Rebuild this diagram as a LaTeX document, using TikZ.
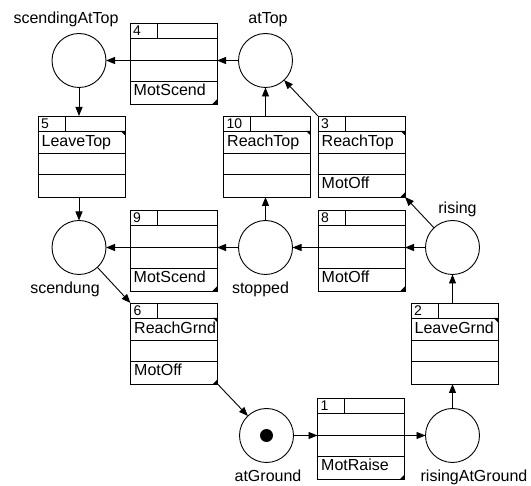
\documentclass[tikz,border=0pt]{standalone}
\usepackage{fontspec}
\setmainfont{Liberation Sans}
\usetikzlibrary{arrows.meta}
\tikzset{
  place/.style={circle,draw,line width=0.9pt,minimum size=54pt,inner sep=0pt,outer sep=0pt},
  tbox/.style={rectangle,draw,line width=0.9pt,minimum width=87pt,minimum height=81pt,inner sep=0pt,outer sep=0pt},
  rowline/.style={line width=0.9pt},
  txt/.style={font=\fontsize{16}{18}\selectfont,inner sep=0pt},
  numtxt/.style={font=\fontsize{14}{16}\selectfont,inner sep=0pt},
  arcline/.style={line width=0.9pt,-{Triangle[length=9pt,width=7pt]}},
}
\newcommand\mytrans[6]{%
  \node[tbox] (#1) at (#2+43.5,#3+40.5) {};
  \draw[rowline] (#2,#3+15) -- ++(87,0) (#2,#3+37.5) -- ++(87,0)
    (#2,#3+58.5) -- ++(87,0) (#2+27,#3) -- ++(0,15);
  \node[numtxt,anchor=base west] at (#2+3,#3+12.5) {#4};
  \if\relax\detokenize{#5}\relax\else
    \node[txt,anchor=base west] at (#2+3.5,#3+31) {#5};
    \fill (#2+87,#3+15) -- ++(-4.5,0) -- ++(4.5,4.5) -- cycle;
  \fi
  \if\relax\detokenize{#6}\relax\else
    \node[txt,anchor=base west] at (#2+3.5,#3+73) {#6};
    \fill (#2+87,#3+81) -- ++(-4.5,0) -- ++(4.5,-4.5) -- cycle;
  \fi
}
\begin{document}
\begin{tikzpicture}[x=1pt,y=-1pt]
\useasboundingbox (0,0) rectangle (531,486);
% places
\node[place] (sAT) at (79,60.5) {};
\node[place] (atTop) at (265.5,60.5) {};
\node[place] (scendung) at (79,247.5) {};
\node[place] (stopped) at (265.5,247.5) {};
\node[place] (rising) at (452.5,247.5) {};
\node[place] (atGround) at (266.5,435.5) {};
\node[place] (rAG) at (452.5,435.5) {};
\fill (atGround.center) circle (6.5);
% place labels
\node[txt,anchor=base] (lsAT) at (66,23.5) {scendingAtTop};
\node[txt,anchor=base] (latTop) at (268,23.5) {atTop};
\node[txt,anchor=base] (lscendung) at (65,293.3) {scendung};
\node[txt,anchor=base] (lstopped) at (260.5,293.3) {stopped};
\node[txt,anchor=base] (lrising) at (457.5,213.3) {rising};
\node[txt,anchor=base] (latGround) at (268,481.7) {atGround};
\node[txt,anchor=base] (lrAG) at (474,481.7) {risingAtGround};
% transitions
\mytrans{T4}{130}{23}{4}{}{MotScend}
\mytrans{T5}{38}{116}{5}{LeaveTop}{}
\mytrans{T10}{223.5}{116}{10}{ReachTop}{}
\mytrans{T3}{318}{116}{3}{ReachTop}{MotOff}
\mytrans{T9}{130}{210}{9}{}{MotScend}
\mytrans{T8}{318}{210}{8}{}{MotOff}
\mytrans{T6}{130.5}{303}{6}{ReachGrnd}{MotOff}
\mytrans{T2}{411}{303}{2}{LeaveGrnd}{}
\mytrans{T1}{317.5}{398}{1}{}{MotRaise}
% arcs
\draw[arcline] (atTop.west) -- (atTop -| T4.east);
\draw[arcline] (sAT -| T4.east) -- (sAT.east);
\draw[arcline] (sAT.south) -- (sAT.south |- T5.north);
\draw[arcline] (T5.south -| scendung) -- (scendung.north);
\draw[arcline] (T10.north -| atTop) -- (atTop.south);
\draw[arcline] (T3.north west) -- (atTop);
\draw[arcline] (stopped.north) -- (stopped.north |- T10.south);
\draw[arcline] (rising) -- (T3.south east);
\draw[arcline] (rising.west) -- (rising -| T8.east);
\draw[arcline] (stopped -| T8.west) -- (stopped.east);
\draw[arcline] (stopped.west) -- (stopped -| T9.east);
\draw[arcline] (scendung -| T9.west) -- (scendung.east);
\draw[arcline] (scendung) -- (T6.north west);
\draw[arcline] (T6.south east) -- (atGround);
\draw[arcline] (atGround.east) -- (atGround -| T1.west);
\draw[arcline] (rAG -| T1.east) -- (rAG.west);
\draw[arcline] (rAG.north) -- (rAG.north |- T2.south);
\draw[arcline] (T2.north -| rising) -- (rising.south);
\end{tikzpicture}
\end{document}
